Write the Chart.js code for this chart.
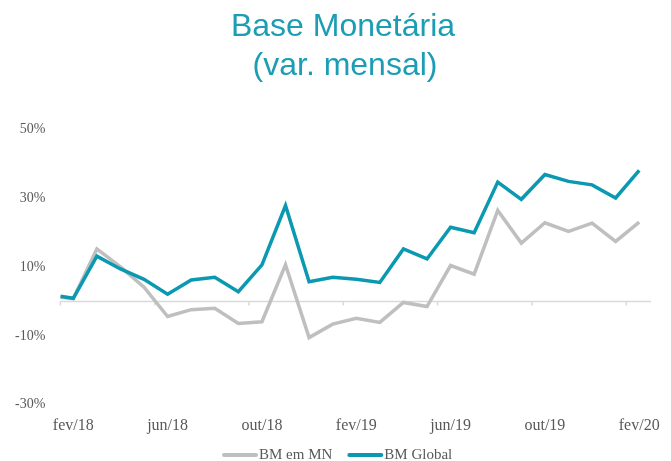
<!DOCTYPE html>
<html lang="pt">
<head>
<meta charset="utf-8">
<script src="https://cdn.jsdelivr.net/npm/chart.js@4/dist/chart.umd.min.js"></script>
<style>
  html, body { margin: 0; padding: 0; background: #ffffff; }
  #wrap { width: 671px; height: 461px; }
</style>
</head>
<body>
<div id="wrap"><canvas id="chartBase"></canvas></div>
<script>
// === DADOS ===
// posição de cada ponto em meses contados a partir de fev/18
const pointMonth = [-0.55, 0, 1, 2, 3, 4, 5, 6, 7, 8, 9, 10, 11, 12, 13, 14, 15, 16, 17, 18, 19, 20, 21, 22, 23, 24];
const bmMN     = [1.2, 0.8, 15.2, 10.0, 4.1, -4.4, -2.4, -2.0, -6.4, -5.9, 10.6, -10.5, -6.6, -4.9, -6.1, -0.3, -1.5, 10.4, 7.9, 26.4, 16.9, 22.8, 20.3, 22.7, 17.4, 23.0];
const bmGlobal = [1.5, 0.9, 13.1, 9.4, 6.4, 2.1, 6.2, 7.0, 2.8, 10.6, 27.8, 5.7, 7.0, 6.4, 5.5, 15.2, 12.3, 21.5, 19.9, 34.6, 29.6, 36.8, 34.8, 33.8, 30.0, 38.0];

const tickMonths = [0, 4, 8, 12, 16, 20, 24];
const tickLabels = ['fev/18', 'jun/18', 'out/18', 'fev/19', 'jun/19', 'out/19', 'fev/20'];
const yTicks = [-30, -10, 10, 30, 50];
const titleLines = ['Base Monetária', '(var. mensal)'];

const COLOR_MN = '#bfbfbf';
const COLOR_GLOBAL = '#0b99b1';
const COLOR_TITLE = '#1b9db4';
const TEXT_GRAY = '#595959';
const SERIF = "'Liberation Serif', 'Times New Roman', serif";

// título em duas linhas (centrado como no original)
const titleBlock = {
    id: 'titleBlock',
    afterDraw(chart) {
        const { ctx } = chart;
        ctx.save();
        ctx.fillStyle = COLOR_TITLE;
        ctx.font = "32px Arial, 'Liberation Sans', sans-serif";
        ctx.textAlign = 'center';
        ctx.textBaseline = 'alphabetic';
        ctx.fillText(titleLines[0], 343, 36);
        ctx.fillText(titleLines[1], 345, 75);
        ctx.restore();
    }
};

// legenda no rodapé: traço curto + nome da série
const footLegend = {
    id: 'footLegend',
    afterDraw(chart) {
        const { ctx } = chart;
        let x = 222;
        const y = 455;
        ctx.save();
        ctx.font = `15px ${SERIF}`;
        ctx.textBaseline = 'middle';
        ctx.lineCap = 'round';
        chart.data.datasets.forEach(ds => {
            ctx.strokeStyle = ds.borderColor;
            ctx.lineWidth = 4;
            ctx.beginPath();
            ctx.moveTo(x + 2, y);
            ctx.lineTo(x + 34, y);
            ctx.stroke();
            x += 37;
            ctx.fillStyle = TEXT_GRAY;
            ctx.fillText(ds.label, x, y);
            x += ctx.measureText(ds.label).width + 15;
        });
        ctx.restore();
    }
};

// linha do zero com marcas a cada 4 meses
const zeroAxis = {
    id: 'zeroAxis',
    beforeDatasetsDraw(chart) {
        const { ctx, chartArea, scales } = chart;
        const y0 = scales.y.getPixelForValue(0);
        ctx.save();
        ctx.strokeStyle = '#d9d9d9';
        ctx.lineWidth = 1.5;
        ctx.beginPath();
        ctx.moveTo(chartArea.left, y0);
        ctx.lineTo(chartArea.right, y0);
        tickMonths.forEach(m => {
            const x = scales.x.getPixelForValue(pointMonth[0] + m);
            ctx.moveTo(x, y0);
            ctx.lineTo(x, y0 + 4);
        });
        ctx.stroke();
        ctx.restore();
    }
};

const toPoints = (vals) => vals.map((v, i) => ({ x: pointMonth[i], y: v }));

new Chart(document.getElementById('chartBase'), {
    type: 'line',
    data: {
        datasets: [
            {
                label: 'BM em MN',
                data: toPoints(bmMN),
                borderColor: COLOR_MN,
                backgroundColor: COLOR_MN,
                borderWidth: 3.5,
                pointRadius: 0,
                tension: 0,
                order: 1
            },
            {
                label: 'BM Global',
                data: toPoints(bmGlobal),
                borderColor: COLOR_GLOBAL,
                backgroundColor: COLOR_GLOBAL,
                borderWidth: 3.5,
                pointRadius: 0,
                tension: 0,
                order: 0
            }
        ]
    },
    options: {
        responsive: true,
        maintainAspectRatio: false,
        animation: false,
        layout: { padding: { left: 0, right: 17, top: 129, bottom: 15 } },
        scales: {
            x: {
                type: 'linear',
                min: -0.55,
                max: 24.5,
                grid: { display: false, drawTicks: false },
                border: { display: false },
                afterBuildTicks: (scale) => { scale.ticks = tickMonths.map(v => ({ value: v })); },
                ticks: {
                    autoSkip: false,
                    maxRotation: 0,
                    padding: 11,
                    color: TEXT_GRAY,
                    font: { family: SERIF, size: 16 },
                    callback: (v, i) => tickLabels[i]
                }
            },
            y: {
                min: -30,
                max: 50,
                grid: { display: false, drawTicks: false },
                border: { display: false },
                afterBuildTicks: (scale) => { scale.ticks = yTicks.map(v => ({ value: v })); },
                ticks: {
                    padding: 15,
                    color: TEXT_GRAY,
                    font: { family: SERIF, size: 14 },
                    callback: (v) => v + '%'
                }
            }
        },
        plugins: {
            title: { display: false },
            legend: { display: false },
            tooltip: { enabled: false }
        }
    },
    plugins: [zeroAxis, titleBlock, footLegend]
});
</script>
</body>
</html>
